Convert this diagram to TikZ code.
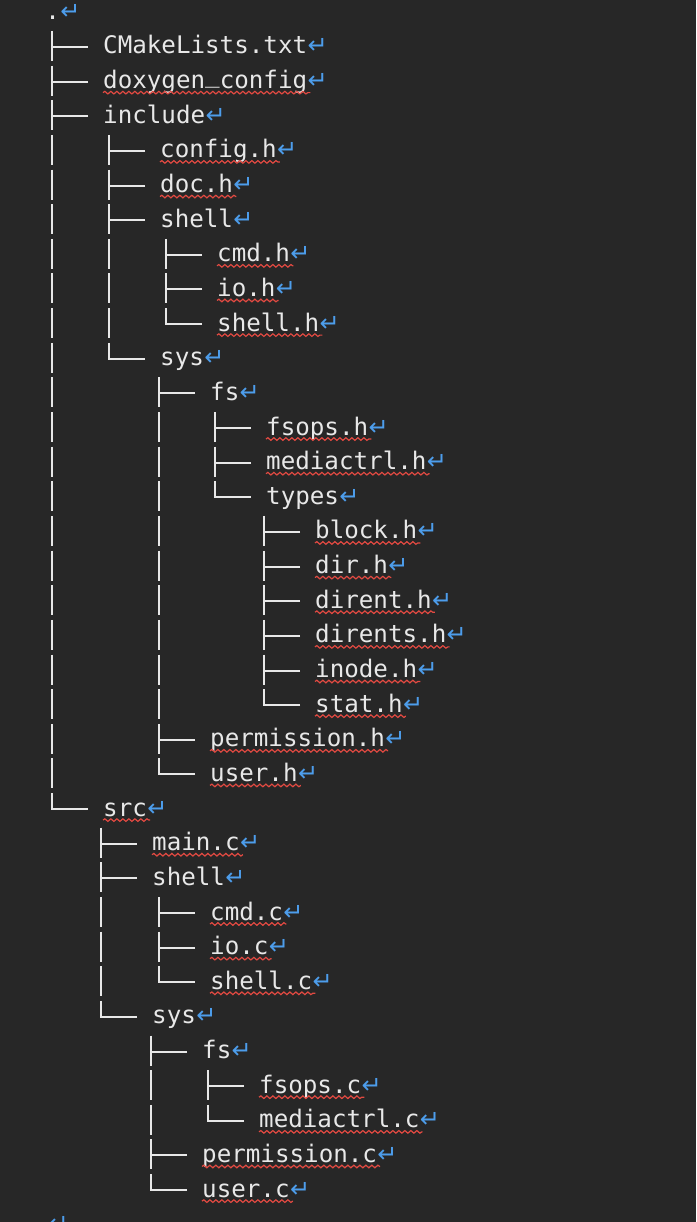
\documentclass[tikz,border=0pt]{standalone}
\usepackage{fontspec}
\setmonofont{DejaVu Sans Mono}
\newfontfamily\arrowfont{DejaVu Sans}
\usetikzlibrary{positioning,calc,decorations.pathmorphing}

\definecolor{bg}{HTML}{272727}
\definecolor{ink}{HTML}{E8E8E8}
\definecolor{retblue}{HTML}{4D9DEB}
\definecolor{squiggle}{HTML}{E24A42}

\tikzset{
  word/.style={anchor=base west, inner sep=0pt, text=ink,
    font=\ttfamily\fontsize{24.2}{29}\selectfont},
  ret/.style={anchor=base west, inner sep=0pt, text=retblue,
    font=\arrowfont\fontsize{24}{28}\selectfont},
  squig/.style={draw=squiggle, line width=1.2pt, decorate,
    decoration={snake, amplitude=1.3pt, segment length=6pt}},
  entry/.style={word,
    append after command={(\tikzlastnode.base east) node[ret] {↵}}},
  typo/.style={word,
    append after command={([yshift=-4pt]\tikzlastnode.base west) edge[squig] ([shift={(3pt,-4pt)}]\tikzlastnode.base east)
      (\tikzlastnode.base east) node[ret] {↵}}},
  pipe/.style={draw=ink, line width=2pt, dash pattern=on 30pt off 4.64pt},
  twig/.style={draw=ink, line width=2pt},
}

\begin{document}
\begin{tikzpicture}[x=1pt,y=-1pt]
  \useasboundingbox (0,0) rectangle (696,1222);
  \fill[bg] (0,0) rectangle (696,1222);

  % one line every 34.64, baseline of line n at 19.36+34.64n
  \node[entry] (root)     at (45.2,19.36)   {.};
  \node[entry] (cmake)    at (103,54)       {CMakeLists.txt};
  \node[typo]  (doxy)     at (103,88.64)    {doxygen\raisebox{6pt}{\_}config};
  \node[entry] (incl)     at (103,123.28)   {include};
  \node[typo]  (configh)  at (160,157.92)   {config.h};
  \node[typo]  (doch)     at (160,192.56)   {doc.h};
  \node[entry] (incshell) at (160,227.20)   {shell};
  \node[typo]  (cmdh)     at (217,261.84)   {cmd.h};
  \node[typo]  (ioh)      at (217,296.48)   {io.h};
  \node[typo]  (shellh)   at (217,331.12)   {shell.h};
  \node[entry] (incsys)   at (160,365.76)   {sys};
  \node[entry] (incfs)    at (210,400.40)   {fs};
  \node[typo]  (fsopsh)   at (266,435.04)   {fsops.h};
  \node[typo]  (mediah)   at (266,469.68)   {mediactrl.h};
  \node[entry] (types)    at (266,504.32)   {types};
  \node[typo]  (blockh)   at (315,538.96)   {block.h};
  \node[typo]  (dirh)     at (315,573.60)   {dir.h};
  \node[typo]  (direnth)  at (315,608.24)   {dirent.h};
  \node[typo]  (direntsh) at (315,642.88)   {dirents.h};
  \node[typo]  (inodeh)   at (315,677.52)   {inode.h};
  \node[typo]  (stath)    at (315,712.16)   {stat.h};
  \node[typo]  (permh)    at (210,746.80)   {permission.h};
  \node[typo]  (userh)    at (210,781.44)   {user.h};
  \node[typo]  (src)      at (103,816.08)   {src};
  \node[typo]  (mainc)    at (152,850.72)   {main.c};
  \node[entry] (srcshell) at (152,885.36)   {shell};
  \node[typo]  (cmdc)     at (210,920.00)   {cmd.c};
  \node[typo]  (ioc)      at (210,954.64)   {io.c};
  \node[typo]  (shellc)   at (210,989.28)   {shell.c};
  \node[entry] (srcsys)   at (152,1023.92)  {sys};
  \node[entry] (srcfs)    at (202,1058.56)  {fs};
  \node[typo]  (fsopsc)   at (259,1093.20)  {fsops.c};
  \node[typo]  (mediac)   at (259,1127.84)  {mediactrl.c};
  \node[typo]  (permc)    at (202,1162.48)  {permission.c};
  \node[typo]  (userc)    at (202,1197.12)  {user.c};
  \node[entry] (tail)     at (47,1231.76)   {};

  % the vertical bars, first child to last child
  \draw[pipe] (cmake.base west)   ++(-51pt,23pt) -- ([shift={(-51pt,7pt)}]src.base west);
  \draw[pipe] (configh.base west) ++(-51pt,23pt) -- ([shift={(-51pt,7pt)}]incsys.base west);
  \draw[pipe] (cmdh.base west)    ++(-51pt,23pt) -- ([shift={(-51pt,7pt)}]shellh.base west);
  \draw[pipe] (incfs.base west)   ++(-51pt,23pt) -- ([shift={(-51pt,7pt)}]userh.base west);
  \draw[pipe] (fsopsh.base west)  ++(-51pt,23pt) -- ([shift={(-51pt,7pt)}]types.base west);
  \draw[pipe] (blockh.base west)  ++(-51pt,23pt) -- ([shift={(-51pt,7pt)}]stath.base west);
  \draw[pipe] (mainc.base west)   ++(-51pt,23pt) -- ([shift={(-51pt,7pt)}]srcsys.base west);
  \draw[pipe] (cmdc.base west)    ++(-51pt,23pt) -- ([shift={(-51pt,7pt)}]shellc.base west);
  \draw[pipe] (srcfs.base west)   ++(-51pt,23pt) -- ([shift={(-51pt,7pt)}]userc.base west);
  \draw[pipe] (fsopsc.base west)  ++(-51pt,23pt) -- ([shift={(-51pt,7pt)}]mediac.base west);

  % the branches into each entry
  \draw[twig]
    (cmake.base west)    ++(-15pt,7pt) -- +(-37pt,0)
    (doxy.base west)     ++(-15pt,7pt) -- +(-37pt,0)
    (incl.base west)     ++(-15pt,7pt) -- +(-37pt,0)
    (configh.base west)  ++(-15pt,7pt) -- +(-37pt,0)
    (doch.base west)     ++(-15pt,7pt) -- +(-37pt,0)
    (incshell.base west) ++(-15pt,7pt) -- +(-37pt,0)
    (cmdh.base west)     ++(-15pt,7pt) -- +(-37pt,0)
    (ioh.base west)      ++(-15pt,7pt) -- +(-37pt,0)
    (shellh.base west)   ++(-15pt,7pt) -- +(-37pt,0)
    (incsys.base west)   ++(-15pt,7pt) -- +(-37pt,0)
    (incfs.base west)    ++(-15pt,7pt) -- +(-37pt,0)
    (fsopsh.base west)   ++(-15pt,7pt) -- +(-37pt,0)
    (mediah.base west)   ++(-15pt,7pt) -- +(-37pt,0)
    (types.base west)    ++(-15pt,7pt) -- +(-37pt,0)
    (blockh.base west)   ++(-15pt,7pt) -- +(-37pt,0)
    (dirh.base west)     ++(-15pt,7pt) -- +(-37pt,0)
    (direnth.base west)  ++(-15pt,7pt) -- +(-37pt,0)
    (direntsh.base west) ++(-15pt,7pt) -- +(-37pt,0)
    (inodeh.base west)   ++(-15pt,7pt) -- +(-37pt,0)
    (stath.base west)    ++(-15pt,7pt) -- +(-37pt,0)
    (permh.base west)    ++(-15pt,7pt) -- +(-37pt,0)
    (userh.base west)    ++(-15pt,7pt) -- +(-37pt,0)
    (src.base west)      ++(-15pt,7pt) -- +(-37pt,0)
    (mainc.base west)    ++(-15pt,7pt) -- +(-37pt,0)
    (srcshell.base west) ++(-15pt,7pt) -- +(-37pt,0)
    (cmdc.base west)     ++(-15pt,7pt) -- +(-37pt,0)
    (ioc.base west)      ++(-15pt,7pt) -- +(-37pt,0)
    (shellc.base west)   ++(-15pt,7pt) -- +(-37pt,0)
    (srcsys.base west)   ++(-15pt,7pt) -- +(-37pt,0)
    (srcfs.base west)    ++(-15pt,7pt) -- +(-37pt,0)
    (fsopsc.base west)   ++(-15pt,7pt) -- +(-37pt,0)
    (mediac.base west)   ++(-15pt,7pt) -- +(-37pt,0)
    (permc.base west)    ++(-15pt,7pt) -- +(-37pt,0)
    (userc.base west)    ++(-15pt,7pt) -- +(-37pt,0);
\end{tikzpicture}
\end{document}
